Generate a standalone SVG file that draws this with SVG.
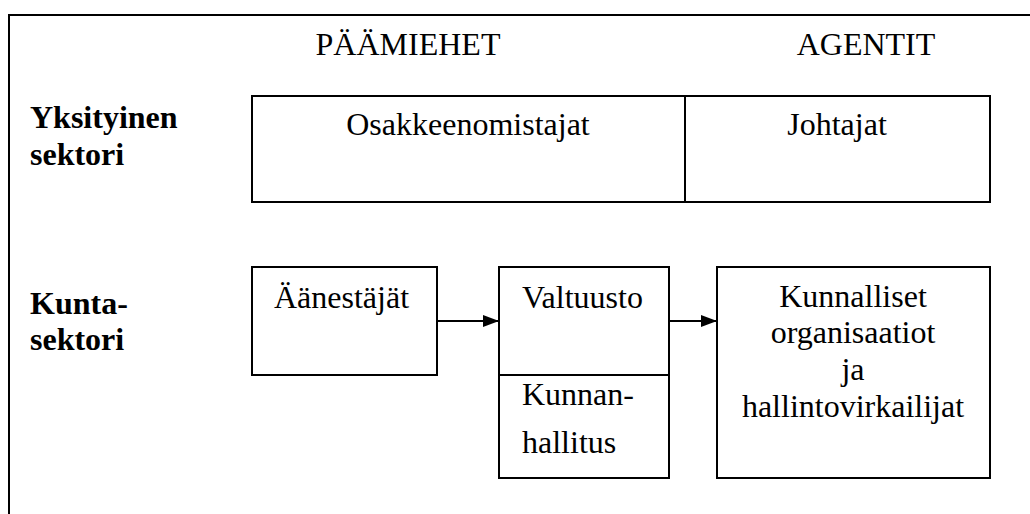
<svg xmlns="http://www.w3.org/2000/svg" width="1030" height="514" viewBox="0 0 1030 514">
<defs>
<marker id="arr" markerWidth="16" markerHeight="12" refX="16" refY="6" orient="auto" markerUnits="userSpaceOnUse">
<path d="M0,0 L16,6 L0,12 Z" fill="#000"/>
</marker>
</defs>
<rect width="1030" height="514" fill="#fff"/>
<g id="frame">
<path d="M9,514 V15 H1030" fill="none" stroke="#000" stroke-width="2"/>
</g>
<g id="headers">
<text font-family="Liberation Serif" font-size="32" text-anchor="middle" x="408" y="55">PÄÄMIEHET</text>
<text font-family="Liberation Serif" font-size="32" text-anchor="middle" x="866" y="55">AGENTIT</text>
</g>
<g id="row-labels">
<text font-family="Liberation Serif" font-size="32" font-weight="bold" x="30" y="128">Yksityinen</text>
<text font-family="Liberation Serif" font-size="32" font-weight="bold" x="30" y="165">sektori</text>
<text font-family="Liberation Serif" font-size="32" font-weight="bold" x="30" y="314">Kunta-</text>
<text font-family="Liberation Serif" font-size="32" font-weight="bold" x="30" y="350">sektori</text>
</g>
<g id="osakkeenomistajat">
<rect x="252" y="96" width="433" height="106" fill="none" stroke="#000" stroke-width="2"/>
<text font-family="Liberation Serif" font-size="32" text-anchor="middle" x="468" y="135">Osakkeenomistajat</text>
</g>
<g id="johtajat">
<rect x="685" y="96" width="305" height="106" fill="none" stroke="#000" stroke-width="2"/>
<text font-family="Liberation Serif" font-size="32" text-anchor="middle" x="837" y="135">Johtajat</text>
</g>
<g id="aanestajat">
<rect x="252" y="267" width="185" height="108" fill="none" stroke="#000" stroke-width="2"/>
<text font-family="Liberation Serif" font-size="32" x="274" y="308">Äänestäjät</text>
</g>
<g id="valtuusto">
<rect x="499" y="267" width="170" height="108" fill="none" stroke="#000" stroke-width="2"/>
<text font-family="Liberation Serif" font-size="32" x="522" y="308">Valtuusto</text>
</g>
<g id="kunnanhallitus">
<rect x="499" y="375" width="170" height="103" fill="none" stroke="#000" stroke-width="2"/>
<text font-family="Liberation Serif" font-size="32" x="522" y="405">Kunnan-</text>
<text font-family="Liberation Serif" font-size="32" x="522" y="453">hallitus</text>
</g>
<g id="kunnalliset">
<rect x="717" y="267" width="273" height="211" fill="none" stroke="#000" stroke-width="2"/>
<text font-family="Liberation Serif" font-size="32" text-anchor="middle" x="853" y="307">Kunnalliset</text>
<text font-family="Liberation Serif" font-size="32" text-anchor="middle" x="853" y="343">organisaatiot</text>
<text font-family="Liberation Serif" font-size="32" text-anchor="middle" x="853" y="380">ja</text>
<text font-family="Liberation Serif" font-size="32" text-anchor="middle" x="853" y="417">hallintovirkailijat</text>
</g>
<g id="connectors" fill="none" stroke="#000" stroke-width="2">
<line x1="437" y1="321" x2="499" y2="321" marker-end="url(#arr)"/>
<line x1="669" y1="321" x2="717" y2="321" marker-end="url(#arr)"/>
</g>
</svg>
